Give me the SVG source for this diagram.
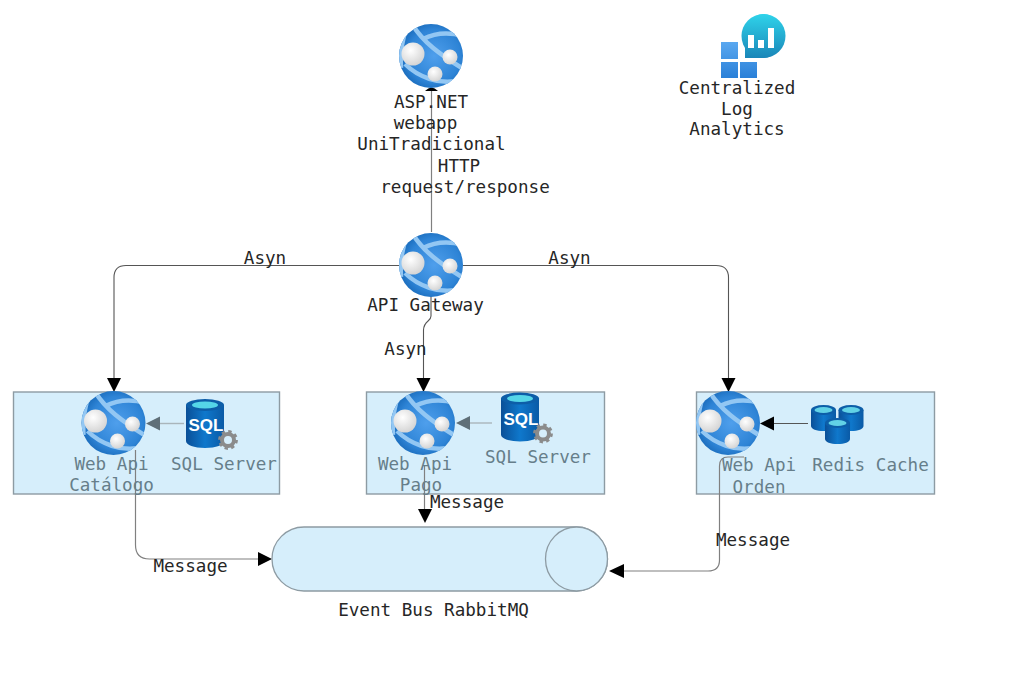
<svg xmlns="http://www.w3.org/2000/svg" xmlns:xlink="http://www.w3.org/1999/xlink" width="1027" height="681" viewBox="0 0 1027 681">
<style>
text{font-family:"DejaVu Sans Mono","Liberation Mono",monospace;font-size:17.6px;fill:#262626;text-anchor:middle}
text.in{fill:#667e8a}
.box{fill:#d6eefb;stroke:#8d9ba3;stroke-width:1.4}
.c{fill:none;stroke:#808080;stroke-width:1.2}
.d{fill:none;stroke:#555;stroke-width:1.1}
.g{fill:none;stroke:#a9b5bb;stroke-width:1.4}
.ah{fill:#000}
.ag{fill:#5f6f78}
</style>
<defs>
<radialGradient id="gl" cx=".55" cy=".5" r=".55"><stop offset="0" stop-color="#4f9fec"/><stop offset=".75" stop-color="#2e84d6"/><stop offset="1" stop-color="#1b6dbd"/></radialGradient>
<radialGradient id="gw" cx=".4" cy=".35" r=".7"><stop offset="0" stop-color="#fff"/><stop offset="1" stop-color="#d2d2d2"/></radialGradient>
<linearGradient id="gs" x1="0" y1="0" x2="1" y2="0"><stop offset="0" stop-color="#0a4f97"/><stop offset=".5" stop-color="#0f78cc"/><stop offset="1" stop-color="#0a5aa6"/></linearGradient>
<linearGradient id="gt" x1="0" y1="0" x2="0" y2="1"><stop offset="0" stop-color="#2fd3ea"/><stop offset="1" stop-color="#1a86b8"/></linearGradient>
<linearGradient id="gq" x1="0" y1="0" x2="0" y2="1"><stop offset="0" stop-color="#5aa8f0"/><stop offset="1" stop-color="#2a80d8"/></linearGradient>
<clipPath id="cg"><circle cx="0" cy="0" r="32"/></clipPath>
<g id="globe">
<circle r="32" fill="url(#gl)"/>
<g clip-path="url(#cg)">
<path d="M-19 -32C-8 -14 8 -2 34 14M-8 -17C4 -23 18 -24 32 -20M-26 -24C-29 -12 -31 -4 -30 12M-26 8C-14 20 8 30 30 24" fill="none" stroke="#93c7f3" stroke-width="4.500"/>
</g>
<circle cx="-18" cy="-2" r="11.500" fill="url(#gw)"/>
<circle cx="19" cy="1" r="7.500" fill="url(#gw)"/>
<circle cx="4" cy="18" r="7.500" fill="url(#gw)"/>
</g>
<g id="sql">
<path d="M0 6V42C0 46 8 49 19 49S38 46 38 42V6Z" fill="url(#gs)"/>
<ellipse cx="19" cy="6" rx="19" ry="6" fill="#0d5ea8"/>
<ellipse cx="19" cy="6" rx="13" ry="3.600" fill="#55d6e8"/>
<text x="20" y="32" style="font-family:'Liberation Sans',sans-serif;font-weight:700;font-size:17px;fill:#fff">SQL</text>
<circle cx="42" cy="41" r="6" fill="none" stroke="#8b8b8b" stroke-width="4"/>
<circle cx="42" cy="41" r="8.600" fill="none" stroke="#8b8b8b" stroke-width="2.600" stroke-dasharray="3.400 3.350"/>
</g>
<g id="cyl">
<path d="M0 5V21C0 24 5.500 26 12.500 26S25 24 25 21V5Z" fill="url(#gs)"/>
<ellipse cx="12.500" cy="5" rx="12.500" ry="5" fill="#0d5ea8"/>
<ellipse cx="12.500" cy="5" rx="9" ry="3" fill="#62d2e6"/>
</g>
</defs>
<rect width="1027" height="681" fill="#fff"/>

<g id="containers">
<rect id="box-catalogo" class="box" x="13.500" y="392" width="266" height="102"/>
<rect id="box-pago" class="box" x="366.500" y="392" width="238" height="102"/>
<rect id="box-orden" class="box" x="696.500" y="392" width="238" height="102"/>
</g>

<g id="connectors">
<path class="c" d="M431.500 232V90"/>
<path class="ah" d="M425 91Q431.500 84 438 91Z"/>
<path class="d" d="M400 265.500H126Q114 265.500 114 277.500V379"/>
<path class="ah" d="M107 378H121L114 392Z"/>
<path class="d" d="M463 265.500H716Q728.500 265.500 728.500 277.500V379"/>
<path class="ah" d="M721.500 378H735.500L728.500 392Z"/>
<path class="d" d="M431 296V316C431 322 424 320 423.500 330V379"/>
<path class="ah" d="M416.500 378H430.500L423.500 392Z"/>
<path class="c" d="M135.500 450V545Q135.500 559 149.500 559H259"/>
<path class="ah" d="M258 552V566L272 559Z"/>
<path class="c" d="M424.500 465V510"/>
<path class="ah" d="M418 509H432L425 523Z"/>
<path class="c" d="M744 457H728Q719.500 457 719.500 466V560Q719.500 571 708 571H623"/>
<path class="ah" d="M624 564V578L609 571Z"/>
<path class="g" d="M184 423.500H159"/>
<path class="ag" d="M160 416.500V430.500L146 423.500Z"/>
<path class="g" d="M492 423H469"/>
<path class="ag" d="M470 416V430L456 423Z"/>
<path class="d" d="M808 423.500H773"/>
<path class="ah" d="M774 416.500V430.500L760 423.500Z"/>
</g>

<g id="node-aspnet">
<use xlink:href="#globe" href="#globe" transform="translate(431 56)"/>
<text x="431" y="108">ASP.NET</text>
<text x="425.500" y="129">webapp</text>
<text x="431.500" y="149.500">UniTradicional</text>
</g>
<g id="label-http">
<text x="459" y="172">HTTP</text>
<text x="465" y="193">request/response</text>
</g>
<g id="node-loganalytics">
<path d="M745 58V36A18.500 22 0 1 1 763.500 58Z" fill="url(#gt)"/>
<circle cx="763.500" cy="36" r="22" fill="url(#gt)"/>
<path d="M748 35h6v13h-6zM758 40h6v8h-6zM768 28h6v20h-6z" fill="#fff"/>
<path d="M721 42h17v17h-17zM721 62h17v16h-17zM740 62h17v16h-17z" fill="url(#gq)"/>
<text x="737" y="94">Centralized</text>
<text x="737" y="115">Log</text>
<text x="737" y="135">Analytics</text>
</g>
<g id="node-gateway">
<use xlink:href="#globe" href="#globe" transform="translate(431 265)"/>
<text x="425.500" y="311">API Gateway</text>
</g>
<g id="labels-asyn">
<text x="265" y="264">Asyn</text>
<text x="569.500" y="264">Asyn</text>
<text x="405.500" y="355">Asyn</text>
</g>
<g id="node-catalogo">
<use xlink:href="#globe" href="#globe" transform="translate(113.500 423)"/>
<text class="in" x="111.500" y="470">Web Api</text>
<text class="in" x="111.500" y="491">Catálogo</text>
</g>
<g id="node-sql1">
<use xlink:href="#sql" href="#sql" transform="translate(186 399)"/>
<text class="in" x="224" y="470">SQL Server</text>
</g>
<g id="node-pago">
<use xlink:href="#globe" href="#globe" transform="translate(423 423)"/>
<text class="in" x="415" y="470">Web Api</text>
<text class="in" x="421" y="491">Pago</text>
</g>
<g id="node-sql2">
<use xlink:href="#sql" href="#sql" transform="translate(501 392.500)"/>
<text class="in" x="538" y="463">SQL Server</text>
</g>
<g id="node-orden">
<use xlink:href="#globe" href="#globe" transform="translate(728 423)"/>
<text class="in" x="759" y="471">Web Api</text>
<text class="in" x="759" y="493">Orden</text>
</g>
<g id="node-redis">
<use xlink:href="#cyl" href="#cyl" transform="translate(811 405)"/>
<use xlink:href="#cyl" href="#cyl" transform="translate(838.500 405)"/>
<use xlink:href="#cyl" href="#cyl" transform="translate(825 418)"/>
<text class="in" x="870.500" y="471">Redis Cache</text>
</g>
<g id="node-eventbus">
<path d="M304 527H576.500A31 32 0 0 1 576.500 591H304A32 32 0 0 1 304 527Z" fill="#d6eefb" stroke="#8d9ba3" stroke-width="1.300"/>
<ellipse cx="576.500" cy="559" rx="31" ry="32" fill="#d6eefb" stroke="#8d9ba3" stroke-width="1.300"/>
<text x="433.500" y="616">Event Bus RabbitMQ</text>
</g>
<g id="labels-message">
<text x="190.500" y="572">Message</text>
<text x="467" y="508">Message</text>
<text x="753" y="546">Message</text>
</g>
</svg>
